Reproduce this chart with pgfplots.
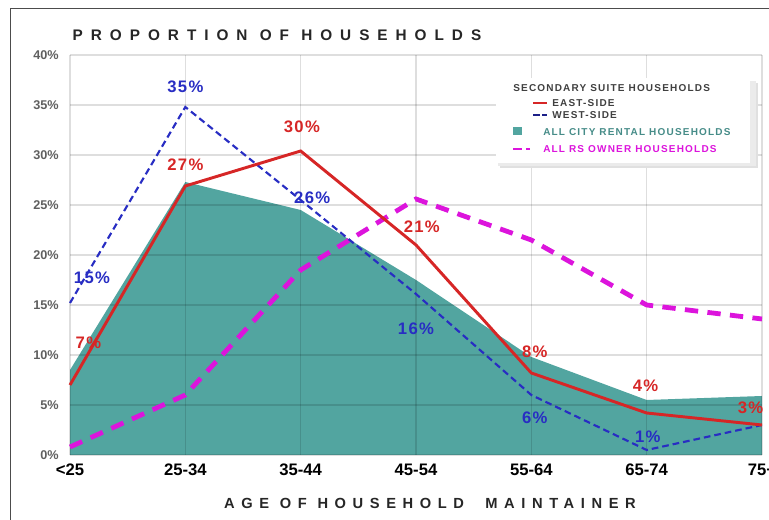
\documentclass[border=0pt]{standalone}
\usepackage{fontspec}
\setmainfont{Liberation Sans}
\newfontfamily\spaced[LetterSpace=52]{Liberation Sans}
\newfontfamily\lspaced[LetterSpace=45]{Liberation Sans}
\newfontfamily\legfont[LetterSpace=12]{Liberation Sans}
\newfontfamily\valfont[LetterSpace=8]{Liberation Sans}
\usepackage{pgfplots}
\pgfplotsset{compat=1.18}
\definecolor{teal1}{RGB}{82,165,160}
\definecolor{red1}{RGB}{214,38,38}
\definecolor{blue1}{RGB}{40,45,195}
\definecolor{mag1}{RGB}{220,20,220}
\definecolor{lab}{RGB}{95,95,95}
\begin{document}
\begin{tikzpicture}
\begin{axis}[
  set layers,
  at={(52.5pt,48.75pt)}, anchor=origin,
  scale only axis, width=519pt, height=300pt,
  xmin=0, xmax=6, ymin=0, ymax=40,
  axis line style={draw=none},
  xtick={0,...,6}, xticklabels={<25,25-34,35-44,45-54,55-64,65-74,75+},
  ytick={0,5,...,40}, yticklabels={0\%,5\%,10\%,15\%,20\%,25\%,30\%,35\%,40\%},
  grid=major, major grid style={black, opacity=0.13, line width=0.9pt},
  major tick length=0pt,
  xticklabel style={font=\bfseries\fontsize{12.5}{14}\selectfont, text=black, yshift=-3pt},
  yticklabel style={font=\bfseries\fontsize{9.5}{11}\selectfont, text=lab, xshift=-5pt},
  clip=false,
]
\addplot[on layer=axis background, fill=teal1, draw=none] coordinates {
 (0,0) (0,8.5) (1,27.3) (2,24.5) (3,17.5) (4,9.8) (5,5.5) (6,5.9) (6,0)} -- cycle;
\addplot[mag1, line width=3.6pt, dash pattern=on 10pt off 7pt] coordinates {
 (0,0.8) (1,6) (2,18.5) (3,25.6) (4,21.5) (5,15) (6,13.6)};
\addplot[blue1, line width=1.6pt, dash pattern=on 5pt off 3pt] coordinates {
 (0,15.2) (1,34.8) (2,25.5) (3,16.1) (4,6) (5,0.5) (6,3)};
\addplot[red1, line width=2.2pt] coordinates {
 (0,7) (1,26.9) (2,30.4) (3,21) (4,8.2) (5,4.2) (6,3)};
\begin{scope}[font=\valfont\bfseries\fontsize{12.5}{14}\selectfont]
\node[text=blue1] at (axis cs:1.0,36.8) {35\%};
\node[text=red1] at (axis cs:1.0,29) {27\%};
\node[text=red1] at (axis cs:2.01,32.8) {30\%};
\node[text=blue1] at (axis cs:2.1,25.7) {26\%};
\node[text=red1] at (axis cs:3.05,22.8) {21\%};
\node[text=blue1] at (axis cs:0.19,17.7) {15\%};
\node[text=red1] at (axis cs:0.16,11.2) {7\%};
\node[text=blue1] at (axis cs:3.0,12.6) {16\%};
\node[text=red1] at (axis cs:4.03,10.3) {8\%};
\node[text=blue1] at (axis cs:4.03,3.7) {6\%};
\node[text=red1] at (axis cs:4.99,6.9) {4\%};
\node[text=blue1] at (axis cs:5.01,1.8) {1\%};
\node[text=red1] at (axis cs:5.9,4.7) {3\%};
\end{scope}
\end{axis}
\begin{scope}[x=0.75pt,y=0.75pt]
\draw[black!70, line width=0.8pt] (10.5,0) -- (10.5,511.5) -- (769,511.5);
% title and axis label
\node[anchor=west, font=\spaced\bfseries\fontsize{11.5}{13}\selectfont, text=black!85] at (68,485) {PROPORTION OF HOUSEHOLDS};
\node[font=\lspaced\bfseries\fontsize{11}{13}\selectfont, text=black!85] at (430,17) {AGE\ OF\ HOUSEHOLD\ \ MAINTAINER};
% legend
\fill[black!12] (500,352) rectangle (758,437);
\fill[black!8] (498,354) rectangle (756,439);
\fill[white] (496,357) rectangle (750,442);
\begin{scope}[font=\legfont\bfseries\fontsize{7.5}{9}\selectfont]
\node[anchor=west, text=black!75, inner sep=0] at (513,432) {SECONDARY SUITE HOUSEHOLDS};
\draw[red1, line width=1.6pt] (533,417) -- (547,417);
\node[anchor=west, text=black!75, inner sep=0] at (552,417) {EAST-SIDE};
\draw[blue1!70!black, line width=1.2pt, dash pattern=on 5pt off 2pt] (533,405) -- (547,405);
\node[anchor=west, text=black!75, inner sep=0] at (552,405) {WEST-SIDE};
\fill[teal1] (513,385) rectangle (522,393);
\node[anchor=west, text=teal1!85!black, inner sep=0] at (543,388) {ALL CITY RENTAL HOUSEHOLDS};
\draw[mag1, line width=2pt, dash pattern=on 7pt off 3pt] (513,371) -- (530,371);
\node[anchor=west, text=mag1, inner sep=0] at (543,371) {ALL RS OWNER HOUSEHOLDS};
\end{scope}
\pgfresetboundingbox
\useasboundingbox (0,0) rectangle (769,520);
\end{scope}
\end{tikzpicture}
\end{document}
